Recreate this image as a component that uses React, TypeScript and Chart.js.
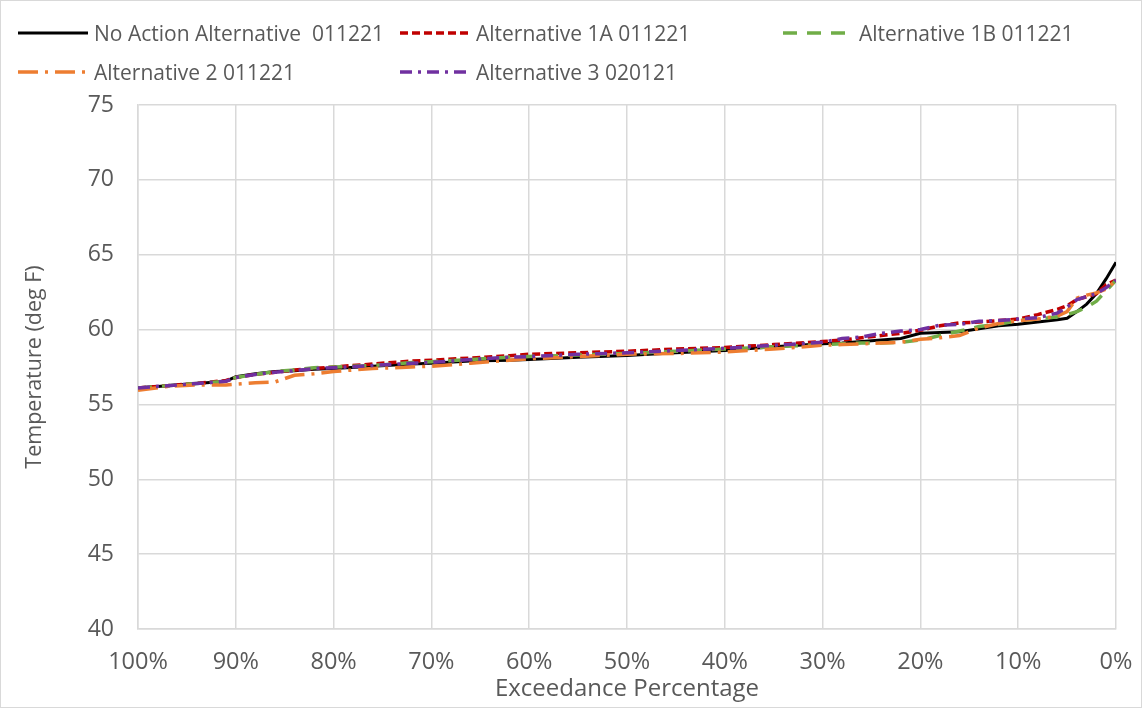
import React, { useEffect, useRef } from "react";
import { Chart, registerables } from "chart.js";

Chart.register(...registerables);

// Exceedance percentage (x) shared by all series
const exceedance = [100, 97, 94, 91, 90, 88, 86, 84, 82, 80, 76, 72, 70, 66, 62, 60, 55, 50, 45, 40, 35, 30, 28, 26, 24, 22, 20, 18, 16, 14, 12, 10, 8, 6, 5, 4, 3, 2, 1, 0];

const noAction = [56.1, 56.25, 56.4, 56.55, 56.85, 57.05, 57.2, 57.25, 57.35, 57.4, 57.55, 57.7, 57.75, 57.9, 57.95, 58.0, 58.15, 58.27, 58.45, 58.6, 58.85, 59.05, 59.1, 59.2, 59.3, 59.4, 59.75, 59.8, 59.85, 60.05, 60.25, 60.35, 60.5, 60.65, 60.75, 61.2, 61.7, 62.4, 63.4, 64.5];
const alt1A = [56.1, 56.25, 56.4, 56.6, 56.8, 57.0, 57.15, 57.3, 57.4, 57.5, 57.7, 57.9, 57.95, 58.1, 58.25, 58.35, 58.45, 58.55, 58.7, 58.8, 59.0, 59.2, 59.3, 59.45, 59.6, 59.75, 59.95, 60.25, 60.45, 60.5, 60.6, 60.7, 61.0, 61.35, 61.6, 62.0, 62.2, 62.4, 63.0, 63.3];
const alt1B = [56.1, 56.25, 56.4, 56.55, 56.8, 57.0, 57.2, 57.3, 57.45, 57.5, 57.6, 57.8, 57.85, 58.0, 58.15, 58.2, 58.3, 58.4, 58.55, 58.7, 58.85, 59.0, 59.05, 59.1, 59.1, 59.15, 59.3, 59.6, 59.9, 60.2, 60.35, 60.6, 60.7, 60.85, 61.0, 61.2, 61.5, 61.9, 62.6, 63.3];
const alt2 = [55.95, 56.2, 56.3, 56.3, 56.35, 56.45, 56.5, 56.95, 57.05, 57.2, 57.4, 57.5, 57.55, 57.75, 57.95, 58.05, 58.2, 58.35, 58.4, 58.5, 58.7, 58.95, 59.0, 59.05, 59.1, 59.15, 59.35, 59.45, 59.6, 60.1, 60.4, 60.6, 60.7, 60.9, 61.2, 62.1, 62.3, 62.45, 62.7, 63.3];
const alt3 = [56.1, 56.25, 56.4, 56.55, 56.8, 57.0, 57.15, 57.25, 57.4, 57.45, 57.6, 57.75, 57.8, 58.0, 58.15, 58.2, 58.35, 58.45, 58.6, 58.75, 58.95, 59.15, 59.4, 59.5, 59.75, 59.9, 60.0, 60.3, 60.35, 60.55, 60.6, 60.7, 60.8, 61.1, 61.5, 62.0, 62.2, 62.4, 62.8, 63.3];

const seriesLabels = [
  "No Action Alternative  011221",
  "Alternative 1A 011221",
  "Alternative 1B 011221",
  "Alternative 2 011221",
  "Alternative 3 020121",
];
const seriesValues = [noAction, alt1A, alt1B, alt2, alt3];
const seriesColors = ["#000000", "#C00000", "#70AD47", "#ED7D31", "#7030A0"];
const seriesDash: number[][] = [[], [8, 4], [14, 10], [20, 7, 3, 7], [12, 6, 3, 6]];
const seriesWidth = [3, 3.5, 3.5, 3.5, 3.5];

const yTitle = "Temperature (deg F)";
const xTitle = "Exceedance Percentage";

const FONT = "'Open Sans', 'DejaVu Sans', sans-serif";

const legendPos = [
  { left: 18, top: 33 },
  { left: 400, top: 33 },
  { left: 783, top: 33 },
  { left: 18, top: 72 },
  { left: 400, top: 72 },
];

export default function App() {
  const ref = useRef<HTMLCanvasElement>(null);

  useEffect(() => {
    document.body.style.margin = "0";
    const canvas = ref.current;
    if (!canvas) return;
    const datasets = seriesLabels.map((label, i) => ({
      label,
      data: exceedance.map((x, j) => ({ x, y: seriesValues[i][j] })),
      borderColor: seriesColors[i],
      backgroundColor: seriesColors[i],
      borderWidth: seriesWidth[i],
      borderDash: seriesDash[i],
      pointRadius: 0,
      tension: 0,
      fill: false,
      order: seriesLabels.length - i,
    }));
    const chart = new Chart(canvas, {
      type: "line",
      data: { datasets },
      options: {
        animation: false,
        responsive: false,
        layout: { padding: { left: 0, right: 26, top: 105, bottom: 0 } },
        plugins: { legend: { display: false }, tooltip: { enabled: false } },
        scales: {
          x: {
            type: "linear",
            reverse: true,
            min: 0,
            max: 100,
            afterFit: (s: any) => {
              s.height = 79;
              s.paddingLeft = 0;
              s.paddingRight = 0;
            },
            ticks: {
              stepSize: 10,
              autoSkip: false,
              maxRotation: 0,
              padding: 19,
              color: "#595959",
              font: { family: FONT, size: 23.5 },
              callback: (v: any) => v + "%",
            },
            grid: { color: "#d9d9d9", lineWidth: 1.5, drawTicks: false },
            border: { color: "#d9d9d9", width: 1.5 },
            title: {
              display: true,
              text: xTitle,
              color: "#595959",
              font: { family: FONT, size: 24 },
              padding: { top: 4, bottom: 4 },
            },
          },
          y: {
            min: 40,
            max: 75,
            afterFit: (s: any) => {
              s.width = 138;
              s.paddingTop = 0;
              s.paddingBottom = 0;
            },
            ticks: {
              stepSize: 5,
              padding: 24,
              color: "#595959",
              font: { family: FONT, size: 23 },
            },
            grid: { color: "#d9d9d9", lineWidth: 1.5, drawTicks: false },
            border: { color: "#d9d9d9", width: 1.5 },
            title: {
              display: true,
              text: yTitle,
              color: "#595959",
              font: { family: FONT, size: 21.5 },
              padding: { top: 22, bottom: 22 },
            },
          },
        },
      },
    } as any);
    return () => chart.destroy();
  }, []);

  return (
    <div style={{ position: "relative", width: 1142, height: 708, background: "#fff", fontFamily: FONT }}>
      <canvas ref={ref} width={1142} height={708} style={{ position: "absolute", left: 0, top: 0 }} />
      <div
        style={{
          position: "absolute",
          left: 0,
          top: 0,
          width: 1142,
          height: 708,
          boxSizing: "border-box",
          border: "1px solid #d9d9d9",
          pointerEvents: "none",
        }}
      />
      {seriesLabels.map((label, i) => (
        <div
          key={label}
          style={{
            position: "absolute",
            left: legendPos[i].left,
            top: legendPos[i].top - 15,
            height: 30,
            display: "flex",
            alignItems: "center",
            whiteSpace: "pre",
            fontSize: 21,
            color: "#595959",
          }}
        >
          <svg width={70} height={10} style={{ marginRight: 6 }}>
            <line
              x1={0}
              y1={5}
              x2={70}
              y2={5}
              stroke={seriesColors[i]}
              strokeWidth={seriesWidth[i]}
              strokeDasharray={seriesDash[i].length ? seriesDash[i].join(" ") : undefined}
            />
          </svg>
          <span>{label}</span>
        </div>
      ))}
    </div>
  );
}
